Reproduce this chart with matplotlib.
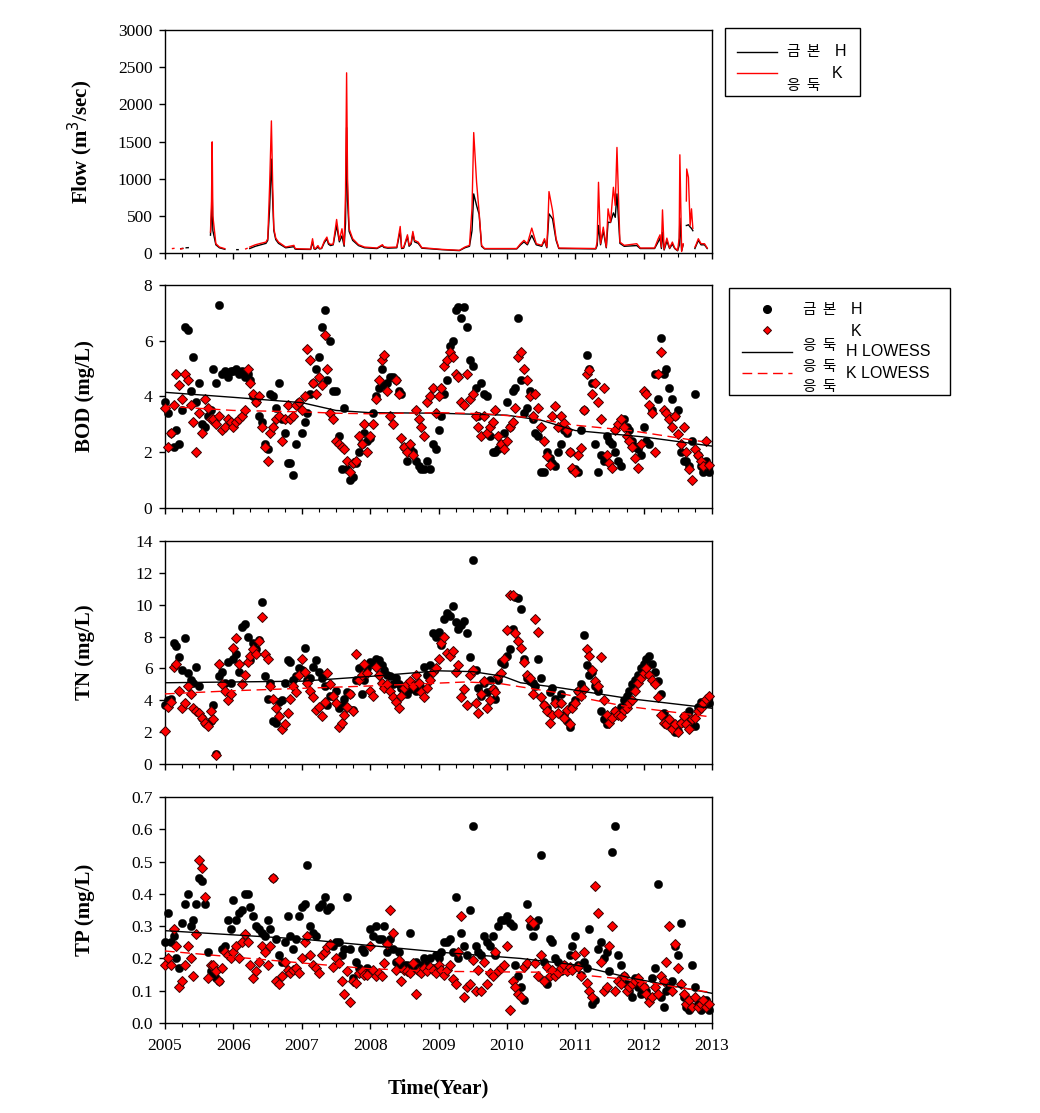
import numpy as np
import matplotlib
matplotlib.use("Agg")
import matplotlib.pyplot as plt
from matplotlib.ticker import MultipleLocator, FormatStrFormatter
from matplotlib.patches import Rectangle
from matplotlib.lines import Line2D

nan = float('nan')

# ---------------- Flow (m3/sec) ----------------
flow_t = [2005.11, 2005.13, nan, 2005.23, 2005.26, nan, 2005.31, 2005.34, nan,
          2005.665, 2005.68, 2005.69, 2005.70, 2005.744, 2005.796, 2005.875, nan,
          2006.05, 2006.07, nan, 2006.18, 2006.20, nan,
          2006.24, 2006.32, 2006.40, 2006.477, 2006.503, 2006.53, 2006.556, 2006.575, 2006.592, 2006.62,
          2006.66, 2006.765, 2006.886, 2006.90, 2006.92, 2007.13, 2007.158, 2007.18, 2007.2, 2007.237,
          2007.26, 2007.29, 2007.33, 2007.368, 2007.39, 2007.42, 2007.46, 2007.51, 2007.55, 2007.588,
          2007.62, 2007.64, 2007.656, 2007.67, 2007.693, 2007.745, 2007.83, 2007.918, 2008.1, 2008.18,
          2008.2, 2008.258, 2008.39, 2008.44, 2008.46, 2008.49, 2008.546, 2008.57, 2008.6, 2008.625,
          2008.65, 2008.703, 2008.756, 2009.044, 2009.306, 2009.385, 2009.453, 2009.49, 2009.515, 2009.557,
          2009.594, 2009.63, 2009.673, 2010.144, 2010.2, 2010.25, 2010.3, 2010.364, 2010.43, 2010.51,
          2010.55, 2010.584, 2010.6, 2010.616, 2010.668, 2010.72, 2010.76, 2011.3, 2011.32, 2011.34,
          2011.37, 2011.41, 2011.454, 2011.48, 2011.516, 2011.558, 2011.585, 2011.61, 2011.653, 2011.716,
          2011.9, 2011.95, 2012.16, 2012.213, 2012.24, 2012.26, 2012.276, 2012.3, 2012.34, 2012.38,
          2012.42, 2012.455, 2012.497, 2012.52, 2012.53, 2012.556, 2012.578, nan,
          2012.625, 2012.63, 2012.655, 2012.68, 2012.70, 2012.72, nan,
          2012.75, 2012.763, 2012.8, 2012.84, 2012.89, 2012.93]
flow_H = [nan, nan, nan, 58, 62, nan, 70, 72, nan,
          240, 500, 840, 300, 110, 70, 50, nan,
          45, 45, nan, nan, nan, nan,
          60, 90, 110, 130, 170, 600, 1263, 700, 300, 180,
          130, 70, 85, 55, 50, 48, 150, 55, 50, 80,
          55, 60, 140, 190, 120, 100, 110, 370, 150, 230,
          90, 400, 1687, 700, 290, 170, 100, 70, 60, 100,
          75, 65, 70, 300, 60, 65, 220, 90, 120, 260,
          150, 130, 65, 45, 32, 70, 90, 300, 795, 638,
          520, 90, 55, 55, 110, 150, 110, 237, 110, 90,
          170, 70, 300, 527, 460, 170, 60, 55, 100, 370,
          110, 300, 70, 415, 410, 540, 480, 795, 130, 90,
          100, 60, 60, 150, 200, 60, 280, 40, 160, 60,
          120, 60, 30, 100, 469, 30, 110, nan,
          370, 370, 380, 350, 330, 300, nan,
          60, 90, 170, 110, 110, 60]
flow_K = [60, 62, nan, 55, 60, nan, nan, nan, nan,
          280, 700, 1495, 500, 125, 80, 58, nan,
          50, nan, nan, 55, 62, nan,
          80, 110, 130, 147, 192, 900, 1777, 900, 326, 200,
          147, 80, 103, 65, 58, 52, 192, 62, 60, 100,
          60, 65, 160, 214, 140, 115, 120, 451, 170, 326,
          110, 800, 2424, 1000, 326, 192, 112, 80, 67, 112,
          85, 75, 80, 357, 70, 75, 245, 105, 140, 290,
          170, 147, 72, 49, 36, 80, 103, 600, 1620, 951,
          549, 103, 60, 60, 125, 170, 125, 335, 125, 103,
          192, 80, 400, 826, 571, 192, 67, 60, 150, 951,
          125, 348, 80, 594, 415, 884, 640, 1420, 147, 103,
          125, 67, 67, 192, 245, 80, 580, 50, 200, 67,
          147, 67, 36, 200, 1321, 20, 125, nan,
          700, 1130, 1018, 370, 594, 330, nan,
          80, 103, 192, 125, 125, 67]

# ---------------- BOD (mg/L), half-monthly, one row per year 2005..2012 ----------------
bod_H = [
    [3.8, 3.4, 2.7, 2.2, 2.8, 2.3, 3.5, 6.5, 6.4, 4.2, 5.4, 3.8, 4.5, 3.0, 2.9, 3.3, 3.5, 5.0, 4.5, 7.3, 4.8, 4.9, 4.7, 4.9],
    [4.9, 5.0, 4.8, 4.9, 4.7, 4.8, 4.6, 4.0, 3.8, 3.3, 3.1, 2.3, 2.1, 4.1, 4.0, 3.6, 4.5, 3.2, 2.7, 1.6, 1.6, 1.2, 2.3, 3.8],
    [2.7, 3.1, 3.4, 4.1, 4.5, 5.0, 5.4, 6.5, 7.1, 4.6, 6.0, 4.2, 4.2, 2.6, 1.4, 3.6, 1.4, 1.0, 1.1, 1.6, 2.0, 2.3, 2.7, 2.4],
    [2.5, 3.4, 4.0, 4.3, 5.0, 4.4, 4.5, 4.7, 4.7, 4.6, 4.2, 4.1, 2.2, 1.7, 2.1, 2.0, 1.7, 1.5, 1.4, 1.4, 1.7, 1.4, 2.3, 2.1],
    [2.8, 3.3, 4.1, 4.6, 5.8, 6.0, 7.1, 7.2, 6.8, 7.2, 6.5, 5.3, 5.1, 4.3, 3.3, 4.5, 4.1, 4.0, 2.6, 2.0, 2.0, 2.1, 2.3, 2.7],
    [3.8, 2.9, 4.2, 4.3, 6.8, 4.6, 3.4, 3.6, 4.2, 3.2, 2.7, 2.6, 1.3, 1.3, 2.0, 1.8, 1.6, 1.5, 2.0, 2.3, 2.8, 2.7, 2.0, 1.4],
    [1.4, 1.3, 2.8, 3.5, 5.5, 5.0, 4.5, 2.3, 1.3, 1.9, 1.7, 2.6, 2.4, 2.3, 2.0, 1.7, 1.5, 3.2, 2.9, 2.8, 2.4, 2.2, 2.1, 1.9],
    [2.9, 2.4, 2.3, 3.5, 4.8, 3.9, 6.1, 4.8, 5.0, 4.3, 3.9, 3.3, 3.5, 2.0, 1.7, 1.7, 1.5, 2.4, 4.1, 1.9, 1.5, 1.3, 1.7, 1.3],
]
bod_K = [
    [3.6, 2.2, 2.7, 3.7, 4.8, 4.4, 3.9, 4.8, 4.6, 3.7, 3.1, 2.0, 3.4, 2.7, 3.9, 3.6, 3.2, 3.2, 3.0, 3.3, 2.8, 2.9, 3.2, 3.1],
    [2.9, 3.1, 3.2, 3.3, 3.5, 5.0, 4.5, 4.1, 3.8, 4.0, 2.9, 2.2, 1.7, 2.7, 2.9, 3.2, 3.3, 2.4, 3.2, 3.7, 3.2, 3.3, 3.7, 3.8],
    [3.5, 4.0, 5.7, 5.3, 4.5, 4.1, 4.7, 4.4, 6.2, 5.0, 3.4, 3.2, 2.4, 2.3, 2.2, 2.1, 1.7, 1.3, 1.6, 1.7, 2.6, 2.3, 3.0, 2.0],
    [2.6, 3.0, 3.9, 4.6, 5.3, 5.5, 4.2, 3.3, 3.0, 4.6, 4.1, 2.5, 2.2, 2.0, 2.3, 1.9, 3.5, 3.2, 2.9, 2.6, 3.8, 4.0, 4.3, 3.4],
    [4.0, 4.3, 5.1, 5.3, 5.6, 5.4, 4.8, 4.7, 3.8, 3.7, 4.8, 3.9, 4.1, 3.3, 2.9, 2.6, 3.3, 2.7, 2.9, 3.1, 3.5, 2.6, 2.3, 2.1],
    [2.4, 2.9, 3.1, 3.6, 5.4, 5.6, 5.0, 4.6, 4.0, 3.3, 4.1, 3.6, 2.9, 2.4, 1.85, 1.55, 3.3, 3.65, 2.9, 3.3, 3.05, 2.8, 2.0, 1.45],
    [1.3, 1.9, 2.15, 3.5, 4.8, 4.95, 4.1, 4.5, 3.8, 3.2, 4.3, 1.9, 1.6, 1.45, 2.8, 3.0, 3.2, 2.9, 2.6, 2.4, 2.2, 1.8, 1.45, 2.3],
    [4.2, 4.1, 3.7, 3.4, 2.0, 4.8, 5.6, 3.5, 3.4, 3.2, 2.9, 3.3, 2.65, 2.3, 2.9, 2.0, 1.4, 1.0, 2.1, 1.9, 1.7, 1.5, 2.4, 1.55],
]
bod_lw_t = [2005.0, 2006.0, 2007.0, 2007.5, 2008.0, 2009.0, 2010.0, 2010.5, 2011.0, 2012.0, 2013.0]
bod_lw_H = [4.15, 3.97, 3.78, 3.50, 3.42, 3.40, 3.33, 3.15, 2.78, 2.55, 2.22]
bod_lw_K_t = [2005.0, 2006.0, 2007.0, 2007.5, 2008.0, 2009.0, 2009.7, 2010.3, 2011.0, 2011.8, 2013.0]
bod_lw_K = [3.65, 3.50, 3.45, 3.40, 3.38, 3.42, 3.38, 3.25, 2.97, 2.78, 2.33]

# ---------------- TN (mg/L) ----------------
tn_H = [
    [3.7, 4.0, 4.1, 7.6, 7.4, 6.7, 5.9, 7.9, 5.7, 5.3, 5.1, 6.1, 4.9, 2.9, 2.6, 2.5, 2.7, 3.7, 0.65, 5.5, 5.75, 5.1, 6.4, 5.1],
    [6.6, 6.9, 5.75, 8.6, 8.8, 8.0, 6.5, 7.6, 7.2, 7.8, 10.2, 5.5, 4.1, 5.1, 2.7, 2.6, 3.9, 4.0, 5.1, 6.5, 6.4, 5.3, 5.5, 6.0],
    [5.9, 7.3, 5.3, 5.4, 6.1, 6.5, 5.8, 5.4, 4.9, 3.7, 4.3, 4.3, 4.6, 3.5, 3.7, 4.1, 4.5, 4.4, 3.4, 5.3, 6.0, 4.4, 5.3, 6.0],
    [6.4, 6.3, 6.6, 6.5, 6.2, 5.9, 5.6, 5.5, 5.0, 5.4, 5.0, 4.8, 4.5, 4.4, 4.7, 5.0, 4.6, 5.0, 4.8, 6.1, 5.6, 6.2, 8.2, 8.0],
    [8.3, 7.5, 9.1, 9.5, 9.3, 9.9, 8.9, 8.5, 8.7, 9.0, 8.2, 6.7, 12.8, 5.9, 4.8, 4.3, 5.1, 4.5, 5.3, 4.7, 4.1, 5.3, 6.4, 6.3],
    [6.8, 7.2, 8.5, 10.5, 10.4, 9.7, 6.6, 5.4, 5.2, 5.1, 4.9, 6.6, 5.4, 3.7, 3.5, 4.5, 4.8, 4.1, 3.8, 4.4, 3.1, 2.7, 2.3, 3.7],
    [4.0, 4.6, 5.0, 8.1, 6.2, 5.6, 5.8, 4.9, 4.6, 3.3, 2.8, 2.5, 2.7, 3.0, 3.3, 3.1, 3.6, 4.0, 4.3, 4.6, 5.0, 5.3, 5.6, 6.0],
    [6.3, 6.6, 6.8, 6.3, 5.8, 5.2, 4.4, 3.2, 2.8, 2.6, 2.3, 2.0, 2.1, 2.6, 3.0, 2.8, 3.3, 2.5, 2.4, 3.6, 3.9, 3.8, 4.0, 3.8],
]
tn_K = [
    [2.1, 3.6, 3.9, 6.1, 6.3, 4.6, 3.5, 3.8, 4.9, 4.4, 3.5, 3.35, 3.2, 2.9, 2.6, 2.4, 3.3, 2.8, 0.55, 6.3, 5.0, 4.6, 4.0, 4.4],
    [7.3, 7.9, 6.3, 5.0, 5.6, 6.4, 6.8, 7.2, 6.9, 7.7, 9.2, 6.9, 6.6, 4.9, 4.1, 3.5, 3.0, 2.2, 2.5, 3.2, 4.1, 4.9, 4.5, 5.6],
    [6.6, 5.8, 5.1, 4.6, 4.2, 3.4, 3.6, 3.0, 3.9, 5.7, 5.0, 4.3, 3.8, 2.3, 2.6, 3.1, 3.6, 4.4, 3.3, 6.9, 5.3, 5.6, 6.3, 5.7],
    [4.6, 4.3, 6.1, 5.6, 5.1, 4.8, 5.0, 4.6, 4.2, 3.9, 3.5, 4.3, 4.8, 5.0, 5.2, 4.9, 5.6, 5.1, 4.5, 4.2, 4.8, 5.3, 5.8, 6.0],
    [6.6, 7.6, 8.0, 7.0, 6.8, 7.1, 5.8, 6.2, 4.2, 4.7, 3.7, 5.6, 5.9, 3.8, 3.2, 4.4, 5.2, 3.5, 4.0, 4.7, 4.5, 5.5, 5.7, 6.6],
    [8.4, 10.6, 10.6, 8.2, 7.7, 7.3, 6.4, 5.6, 5.4, 4.4, 9.1, 8.3, 4.2, 3.7, 3.3, 2.6, 3.1, 3.8, 3.2, 3.8, 2.9, 3.4, 2.5, 3.5],
    [3.8, 4.6, 4.3, 4.7, 7.2, 6.8, 5.9, 5.2, 4.9, 6.7, 4.0, 3.1, 2.6, 2.9, 3.3, 3.1, 3.0, 3.4, 3.5, 3.8, 4.0, 4.6, 5.1, 5.4],
    [5.7, 6.0, 5.6, 5.3, 5.0, 4.2, 3.1, 2.6, 2.5, 2.8, 2.2, 2.5, 2.0, 2.6, 3.0, 2.5, 2.2, 2.8, 2.9, 3.3, 3.5, 3.8, 4.1, 4.3],
]
tn_lw_H_t = [2005.0, 2007.0, 2008.0, 2009.0, 2009.5, 2009.95, 2010.2, 2010.75, 2011.8, 2013.0]
tn_lw_H = [5.10, 5.20, 5.50, 5.85, 5.80, 5.50, 5.10, 4.80, 4.10, 3.50]
tn_lw_K_t = [2005.0, 2006.0, 2008.0, 2009.4, 2009.9, 2010.7, 2011.7, 2013.0]
tn_lw_K = [4.40, 4.60, 4.90, 5.15, 5.05, 4.50, 3.65, 2.95]

# ---------------- TP (mg/L) ----------------
tp_H = [
    [0.25, 0.34, 0.25, 0.27, 0.20, 0.17, 0.31, 0.37, 0.40, 0.30, 0.32, 0.37, 0.45, 0.44, 0.37, 0.22, 0.16, 0.155, 0.14, 0.13, 0.23, 0.24, 0.32, 0.29],
    [0.38, 0.32, 0.34, 0.35, 0.40, 0.40, 0.36, 0.33, 0.30, 0.29, 0.28, 0.27, 0.32, 0.29, 0.45, 0.26, 0.21, 0.19, 0.25, 0.33, 0.27, 0.23, 0.26, 0.33],
    [0.36, 0.37, 0.49, 0.30, 0.28, 0.27, 0.36, 0.37, 0.39, 0.35, 0.36, 0.24, 0.25, 0.25, 0.21, 0.23, 0.39, 0.23, 0.14, 0.19, 0.17, 0.23, 0.22, 0.17],
    [0.29, 0.27, 0.30, 0.26, 0.26, 0.30, 0.22, 0.26, 0.23, 0.19, 0.22, 0.17, 0.18, 0.18, 0.28, 0.17, 0.19, 0.16, 0.18, 0.20, 0.18, 0.20, 0.17, 0.21],
    [0.20, 0.22, 0.25, 0.25, 0.26, 0.22, 0.39, 0.20, 0.28, 0.24, 0.21, 0.35, 0.61, 0.24, 0.22, 0.21, 0.27, 0.25, 0.24, 0.27, 0.21, 0.30, 0.32, 0.32],
    [0.33, 0.31, 0.30, 0.18, 0.145, 0.11, 0.07, 0.37, 0.30, 0.27, 0.30, 0.32, 0.52, 0.19, 0.12, 0.26, 0.25, 0.20, 0.19, 0.16, 0.18, 0.17, 0.21, 0.24],
    [0.27, 0.18, 0.15, 0.19, 0.17, 0.29, 0.06, 0.07, 0.23, 0.25, 0.20, 0.22, 0.16, 0.53, 0.61, 0.21, 0.18, 0.145, 0.12, 0.10, 0.08, 0.14, 0.11, 0.09],
    [0.11, 0.10, 0.08, 0.14, 0.17, 0.43, 0.08, 0.05, 0.10, 0.11, 0.13, 0.24, 0.21, 0.31, 0.08, 0.05, 0.04, 0.18, 0.11, 0.06, 0.04, 0.05, 0.07, 0.04],
]
tp_K = [
    [0.18, 0.20, 0.18, 0.29, 0.24, 0.11, 0.13, 0.18, 0.24, 0.20, 0.145, 0.275, 0.505, 0.48, 0.39, 0.14, 0.18, 0.18, 0.16, 0.13, 0.17, 0.22, 0.21, 0.20],
    [0.22, 0.24, 0.20, 0.25, 0.275, 0.25, 0.18, 0.14, 0.16, 0.19, 0.24, 0.22, 0.18, 0.24, 0.45, 0.13, 0.12, 0.145, 0.19, 0.165, 0.155, 0.165, 0.17, 0.155],
    [0.20, 0.25, 0.27, 0.21, 0.18, 0.17, 0.155, 0.21, 0.22, 0.235, 0.245, 0.175, 0.20, 0.185, 0.13, 0.09, 0.16, 0.065, 0.13, 0.125, 0.155, 0.16, 0.15, 0.15],
    [0.24, 0.165, 0.145, 0.155, 0.145, 0.185, 0.245, 0.35, 0.28, 0.165, 0.195, 0.13, 0.165, 0.16, 0.155, 0.185, 0.09, 0.16, 0.155, 0.17, 0.16, 0.175, 0.165, 0.155],
    [0.18, 0.165, 0.15, 0.165, 0.18, 0.135, 0.12, 0.22, 0.33, 0.08, 0.11, 0.12, 0.195, 0.10, 0.165, 0.10, 0.19, 0.12, 0.155, 0.145, 0.22, 0.16, 0.17, 0.18],
    [0.24, 0.04, 0.13, 0.11, 0.09, 0.08, 0.175, 0.185, 0.32, 0.31, 0.185, 0.145, 0.21, 0.13, 0.175, 0.145, 0.165, 0.145, 0.155, 0.17, 0.18, 0.16, 0.175, 0.165],
    [0.21, 0.175, 0.145, 0.22, 0.125, 0.10, 0.08, 0.425, 0.34, 0.19, 0.10, 0.11, 0.24, 0.30, 0.10, 0.13, 0.12, 0.145, 0.10, 0.11, 0.12, 0.13, 0.14, 0.12],
    [0.11, 0.09, 0.065, 0.08, 0.11, 0.09, 0.145, 0.13, 0.19, 0.30, 0.10, 0.245, 0.17, 0.12, 0.09, 0.06, 0.07, 0.05, 0.08, 0.05, 0.06, 0.07, 0.05, 0.06],
]
tp_lw_H_t = [2005.0, 2007.0, 2009.1, 2010.2, 2011.0, 2011.8, 2013.0]
tp_lw_H = [0.286, 0.260, 0.218, 0.200, 0.180, 0.140, 0.092]
tp_lw_K_t = [2005.0, 2007.0, 2008.0, 2009.0, 2010.7, 2011.8, 2013.0]
tp_lw_K = [0.223, 0.186, 0.168, 0.160, 0.157, 0.134, 0.094]

start_year = 2005
years = [str(y) for y in range(2005, 2014)]


def expand(rows):
    t, v = [], []
    for i, row in enumerate(rows):
        n = len(row)
        for j, val in enumerate(row):
            t.append(start_year + i + j / n)
            v.append(val)
    return np.array(t), np.array(v)


W, H = 1040, 1113
fig = plt.figure(figsize=(W / 100, H / 100), dpi=100)
serif = ['Liberation Serif', 'DejaVu Serif']
lbl_font = dict(family=serif, fontsize=15, fontweight='bold')
TICK_FS = 12.5


def make_ax(top_px, bot_px):
    ax = fig.add_axes([165 / W, 1 - bot_px / H, 547 / W, (bot_px - top_px) / H])
    ax.set_xlim(2005, 2013)
    ax.xaxis.set_major_locator(MultipleLocator(1))
    ax.xaxis.set_minor_locator(MultipleLocator(0.25))
    ax.tick_params(axis='both', which='major', direction='out', length=4, width=1,
                   labelsize=TICK_FS, top=False, right=False, pad=5)
    ax.tick_params(axis='x', which='minor', direction='out', length=3, width=0.8)
    for s in ax.spines.values():
        s.set_linewidth(1.0)
    return ax


def style_ticks(ax):
    for lab in ax.get_xticklabels() + ax.get_yticklabels():
        lab.set_fontfamily(serif)
        lab.set_fontsize(TICK_FS)
    ax.yaxis.set_label_coords(-0.128, 0.5)


# Panel 1: flow
ax1 = make_ax(30, 253)
ax1.plot(flow_t, flow_H, color='black', lw=1.0)
ax1.plot(flow_t, flow_K, color='red', lw=1.0)
ax1.set_ylim(0, 3000)
ax1.yaxis.set_major_locator(MultipleLocator(500))
ax1.set_xticklabels([])
ax1.set_ylabel('Flow (m$^3$/sec)', **lbl_font)
style_ticks(ax1)


def scatter_panel(ax, rowsH, rowsK, lwHt, lwH, lwKt, lwK):
    tH, vH = expand(rowsH)
    tK, vK = expand(rowsK)
    ax.plot(tH, vH, 'o', color='black', ms=6, mec='black', mew=0.3, zorder=3, clip_on=False)
    ax.plot(tK, vK, 'D', color='red', ms=5.2, mec='#3a0000', mew=0.7, zorder=4, clip_on=False)
    ax.plot(lwHt, lwH, color='black', lw=1.0, zorder=5)
    ax.plot(lwKt, lwK, color='red', lw=1.0, ls=(0, (7, 4)), zorder=5)


ax2 = make_ax(285, 508)
scatter_panel(ax2, bod_H, bod_K, bod_lw_t, bod_lw_H, bod_lw_K_t, bod_lw_K)
ax2.set_ylim(0, 8)
ax2.yaxis.set_major_locator(MultipleLocator(2))
ax2.set_xticklabels([])
ax2.set_ylabel('BOD (mg/L)', **lbl_font)
style_ticks(ax2)

ax3 = make_ax(541, 764)
scatter_panel(ax3, tn_H, tn_K, tn_lw_H_t, tn_lw_H, tn_lw_K_t, tn_lw_K)
ax3.set_ylim(0, 14)
ax3.yaxis.set_major_locator(MultipleLocator(2))
ax3.set_xticklabels([])
ax3.set_ylabel('TN (mg/L)', **lbl_font)
style_ticks(ax3)

ax4 = make_ax(797, 1023)
scatter_panel(ax4, tp_H, tp_K, tp_lw_H_t, tp_lw_H, tp_lw_K_t, tp_lw_K)
ax4.set_ylim(0, 0.7)
ax4.yaxis.set_major_locator(MultipleLocator(0.1))
ax4.yaxis.set_major_formatter(FormatStrFormatter('%.1f'))
ax4.set_xticks(range(2005, 2014))
ax4.set_xticklabels(years)
ax4.tick_params(axis='x', pad=7)
ax4.set_ylabel('TP (mg/L)', **lbl_font)
style_ticks(ax4)

fig.text(438 / W, 1 - 1088 / H, 'Time(Year)', ha='center', va='center', **lbl_font)

# ---------------- Legends (drawn manually in pixel coordinates) ----------------
kfont = ['Noto Sans CJK KR', 'DejaVu Sans']
lfont = ['Liberation Sans', 'Noto Sans CJK KR']


def fx(x):
    return x / W


def fy(y):
    return 1 - y / H


def box(x0, y0, x1, y1):
    fig.add_artist(Rectangle((fx(x0), fy(y1)), fx(x1) - fx(x0), fy(y0) - fy(y1),
                             transform=fig.transFigure, fill=False, ec='black', lw=1.0))


def txt(x, y, s, fam, size):
    fig.text(fx(x), fy(y), s, ha='left', va='center', family=fam, fontsize=size)


# legend 1 (flow)
box(725, 28, 860, 96)
fig.add_artist(Line2D([fx(737), fx(777)], [fy(52), fy(52)], color='black', lw=1.0, transform=fig.transFigure))
fig.add_artist(Line2D([fx(737), fx(777)], [fy(73), fy(73)], color='red', lw=1.0, transform=fig.transFigure))
txt(787, 52, '금  본', kfont, 10.5)
txt(835, 52, 'H', lfont, 11.5)
txt(832, 73, 'K', lfont, 11.5)
txt(787, 86, '응  둑', kfont, 10.5)

# legend 2 (water quality)
box(729, 288, 950, 395)
fig.add_artist(Line2D([fx(767)], [fy(309)], marker='o', color='black', ms=5.5,
                      transform=fig.transFigure, ls='none'))
fig.add_artist(Line2D([fx(767)], [fy(330)], marker='D', color='red', ms=4.5, mec='#3a0000', mew=0.7,
                      transform=fig.transFigure, ls='none'))
fig.add_artist(Line2D([fx(742), fx(792)], [fy(352), fy(352)], color='black', lw=1.0, transform=fig.transFigure))
fig.add_artist(Line2D([fx(742), fx(792)], [fy(373), fy(373)], color='red', lw=1.0, ls=(0, (7, 4)),
                      transform=fig.transFigure))
txt(803, 310, '금  본', kfont, 10.5)
txt(851, 310, 'H', lfont, 11.5)
txt(851, 331, 'K', lfont, 11.5)
txt(803, 346, '응  둑', kfont, 10.5)
txt(846, 352, 'H LOWESS', lfont, 11.5)
txt(803, 367, '응  둑', kfont, 10.5)
txt(846, 373, 'K LOWESS', lfont, 11.5)
txt(803, 387, '응  둑', kfont, 10.5)

fig.savefig('out.png', dpi=100)
